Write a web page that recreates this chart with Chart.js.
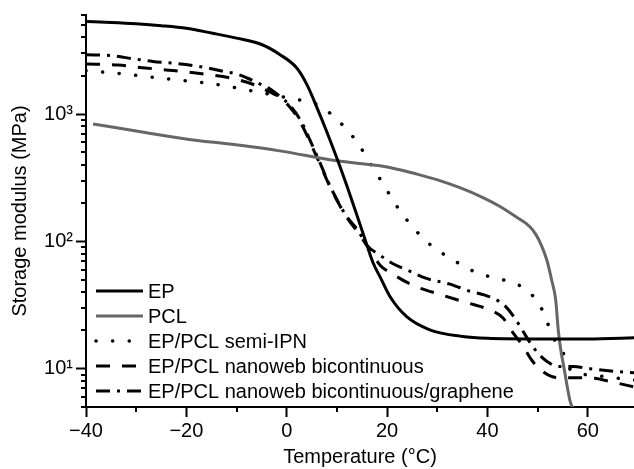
<!DOCTYPE html>
<html>
<head>
<meta charset="utf-8">
<script src="https://cdn.jsdelivr.net/npm/chart.js@4.4.1/dist/chart.umd.min.js"></script>
<style>
  html, body { margin: 0; padding: 0; background: #fff; }
</style>
</head>
<body>
<canvas id="dma" width="634" height="469"></canvas>
<script>
// temperature (°C) and storage modulus (MPa)
const epT = [-40, -35, -30, -25, -20, -15, -10, -5, -1.4, 2, 4, 6, 8, 10, 12, 14, 16, 17.2, 18.6, 20.6, 23.9, 28.5, 35, 40, 50, 60, 70];
const epE = [5330, 5240, 5120, 4950, 4720, 4330, 3950, 3520, 2940, 2300, 1710, 1130, 723, 449, 272, 160, 93, 68, 52.6, 36.7, 25.6, 20.2, 17.9, 17.3, 17.1, 17.1, 17.5];

const pclT = [-38.6, -30, -20.1, -10.1, -1.4, 10, 18.6, 22.5, 26.5, 30.5, 34.5, 39.1, 42.5, 45.9, 48.4, 49.6, 50.7, 51.8, 52.8, 53.6, 54.1, 54.6, 55.2, 56.4, 56.8, 57.2];
const pclE = [836, 736, 638, 573, 514, 429, 392, 365, 333, 300, 264, 221, 188, 154, 131, 114, 94, 72, 49.5, 34.6, 20.2, 14.1, 10.4, 5.7, 5.05, 4.5];

const ipnT = [-40, -33.6, -26.9, -20.3, -14, -7.3, -1.4, 2.2, 6, 8.9, 11.9, 14.4, 16.4, 18.4, 20.4, 22.5, 25, 28.1, 31.4, 34.7, 37.8, 41.1, 44.5, 47.6, 50.4, 51.8, 53, 55.1, 56, 58, 62, 66, 70];
const ipnE = [2190, 2090, 1950, 1830, 1710, 1530, 1380, 1300, 1190, 995, 760, 573, 424, 318, 236, 175, 131, 98, 78.7, 65.8, 56.9, 52, 48.1, 42, 31.6, 23.8, 17.9, 13.3, 10.5, 9.3, 8.8, 8.4, 8.1];

const bicT = [-40, -33.6, -28.2, -22.7, -16.9, -11.3, -6.3, -3.3, -1.4, 0.6, 2.6, 6.2, 8.6, 11.8, 14.2, 16.6, 18.6, 20.9, 25.1, 30.9, 36.1, 40.5, 43.1, 45.1, 46.9, 48.8, 51, 54, 57, 61.2, 65.2, 69.2];
const bicE = [2470, 2430, 2300, 2200, 2070, 1920, 1690, 1485, 1358, 1135, 880, 440, 270, 158, 117, 85, 65, 56, 45.3, 37.9, 32.8, 28.9, 25, 19.1, 15.4, 11.7, 9.5, 8.5, 8.5, 8.4, 7.8, 7.2];

const graT = [-40, -35.2, -30.6, -26.7, -21.7, -16.7, -12.7, -9.9, -7.9, -5.3, -3.3, -1.4, 0.6, 2.6, 6.2, 8.6, 11.8, 14.2, 16, 18.6, 21, 24.5, 27.7, 32.5, 36.5, 39.5, 41.5, 43.5, 45.7, 46.9, 48.5, 50, 52, 54, 57, 60.4, 65.8, 69.2];
const graE = [2920, 2880, 2720, 2590, 2490, 2340, 2170, 2060, 1920, 1720, 1570, 1380, 1175, 914, 453, 274, 160, 122, 93, 77.8, 67.3, 58.3, 51.4, 46.1, 40.6, 37.8, 35.2, 31.1, 24.1, 20.2, 16, 13.3, 11.3, 10.4, 10.4, 10, 9.5, 9.3];

const seriesNames = ['EP', 'PCL', 'EP/PCL semi-IPN', 'EP/PCL nanoweb bicontinuous', 'EP/PCL nanoweb bicontinuous/graphene'];

const xTicks = [-40, -20, 0, 20, 40, 60];
const xTickLabels = ['\u221240', '\u221220', '0', '20', '40', '60'];
const xMinor = [-30, -10, 10, 30, 50];
const yTicks = [10, 100, 1000];
const yTickLabels = ['10\u00b9', '10\u00b2', '10\u00b3'];

function pts(xs, ys) {
  return xs.map((t, i) => ({ x: t, y: ys[i] }));
}

const yMinor = [];
[1, 10, 100, 1000].forEach(d => {
  for (let k = 2; k <= 9; k++) yMinor.push(k * d);
});

Chart.defaults.font.family = '"Liberation Sans", Arial, sans-serif';
Chart.defaults.font.size = 20;
Chart.defaults.color = '#000';

// minor ticks + legend inside the plot
const extras = {
  id: 'extras',
  afterDraw(chart) {
    const ctx = chart.ctx;
    const xs = chart.scales.x, ys = chart.scales.y;
    const area = chart.chartArea;
    ctx.save();
    ctx.strokeStyle = '#000';
    ctx.lineWidth = 2;
    ctx.beginPath();
    xMinor.forEach(v => {
      const px = Math.round(xs.getPixelForValue(v));
      ctx.moveTo(px, area.bottom);
      ctx.lineTo(px, area.bottom + 5);
    });
    yMinor.forEach(v => {
      if (v < ys.min || v > ys.max) return;
      const py = Math.round(ys.getPixelForValue(v));
      ctx.moveTo(area.left - 5, py);
      ctx.lineTo(area.left, py);
    });
    ctx.stroke();

    const lx = area.left + 10;
    let ly = area.top + 276;
    ctx.font = '20px "Liberation Sans", Arial, sans-serif';
    ctx.textBaseline = 'middle';
    ctx.fillStyle = '#000';
    chart.data.datasets.forEach(ds => {
      ctx.save();
      ctx.strokeStyle = ds.borderColor;
      ctx.lineWidth = ds.borderWidth;
      ctx.lineCap = ds.borderCapStyle || 'butt';
      ctx.setLineDash(ds.borderDash || []);
      ctx.beginPath();
      ctx.moveTo(lx, ly);
      ctx.lineTo(lx + 47, ly);
      ctx.stroke();
      ctx.restore();
      ctx.fillText(ds.label, lx + 52, ly + 1);
      ly += 25;
    });
    ctx.restore();
  }
};

const common = { pointRadius: 0, fill: false, cubicInterpolationMode: 'monotone' };

new Chart(document.getElementById('dma'), {
  type: 'line',
  data: {
    datasets: [
      Object.assign({ label: seriesNames[0], data: pts(epT, epE), borderColor: '#000', borderWidth: 3 }, common),
      Object.assign({ label: seriesNames[1], data: pts(pclT, pclE), borderColor: '#666', borderWidth: 3 }, common),
      Object.assign({ label: seriesNames[2], data: pts(ipnT, ipnE), borderColor: '#000', borderWidth: 3.5, borderDash: [0.1, 16.5], borderCapStyle: 'round' }, common),
      Object.assign({ label: seriesNames[3], data: pts(bicT, bicE), borderColor: '#000', borderWidth: 3, borderDash: [14, 12] }, common),
      Object.assign({ label: seriesNames[4], data: pts(graT, graE), borderColor: '#000', borderWidth: 3, borderDash: [14, 7, 3, 7] }, common)
    ]
  },
  options: {
    responsive: false,
    animation: false,
    devicePixelRatio: 1,
    layout: { padding: { top: 14, right: 0, left: 0, bottom: 0 } },
    plugins: {
      legend: { display: false },
      tooltip: { enabled: false }
    },
    scales: {
      x: {
        type: 'linear',
        position: 'bottom',
        min: -40,
        max: 69.2,
        afterFit: s => { s.height = 62; },
        afterBuildTicks: s => { s.ticks = xTicks.map(v => ({ value: v })); },
        ticks: {
          padding: 2,
          maxRotation: 0,
          callback: v => xTickLabels[xTicks.indexOf(v)]
        },
        grid: { drawOnChartArea: false, drawTicks: true, tickLength: 10, tickWidth: 2, tickColor: '#000' },
        border: { display: true, color: '#000', width: 2 },
        title: { display: true, text: 'Temperature (\u00b0C)', padding: { top: 0, bottom: 0 } }
      },
      y: {
        type: 'logarithmic',
        min: 5,
        max: 6000,
        afterFit: s => { s.width = 86; },
        afterBuildTicks: s => { s.ticks = yTicks.map(v => ({ value: v })); },
        ticks: {
          padding: 3,
          callback: v => yTickLabels[yTicks.indexOf(v)]
        },
        grid: { drawOnChartArea: false, drawTicks: true, tickLength: 10, tickWidth: 2, tickColor: '#000' },
        border: { display: true, color: '#000', width: 2 },
        title: { display: true, text: 'Storage modulus (MPa)', padding: { top: 8, bottom: 0 } }
      }
    }
  },
  plugins: [extras]
});
</script>
</body>
</html>
